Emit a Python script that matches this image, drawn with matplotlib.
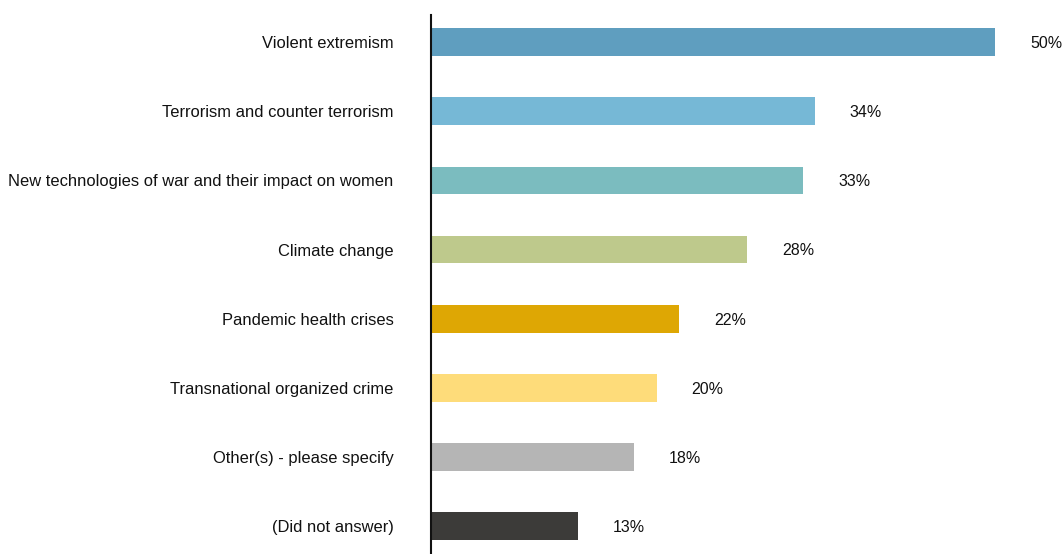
import matplotlib
matplotlib.use("Agg")
import matplotlib.pyplot as plt

categories = ["Violent extremism", "Terrorism and counter terrorism",
              "New technologies of war and their impact on women", "Climate change",
              "Pandemic health crises", "Transnational organized crime",
              "Other(s) - please specify", "(Did not answer)"]
values = [50, 34, 33, 28, 22, 20, 18, 13]
colors = ["#5f9ebf", "#76b8d6", "#7bbcbf", "#bec98c", "#dea704", "#fedc7a", "#b5b5b5", "#3c3b39"]

plt.rcParams['font.family'] = ['Liberation Sans', 'DejaVu Sans']

fig = plt.figure(figsize=(10.62, 5.54), dpi=100)
W, H = 1062, 554
ax = fig.add_axes([431 / W, 0, (W - 431) / W, (554 - 15) / H])
y = list(range(len(categories)))
ax.barh(y, values, height=0.4, color=colors)
for yi, v in zip(y, values):
    ax.text(v + 3.1, yi + 0.02, f"{v}%", va='center', ha='left', fontsize=11.5, color='#111111')
ax.set_xlim(0, 50 * (W - 431) / 564)
ax.set_ylim(7.4, -0.39)
ax.set_yticks(y)
ax.set_yticklabels(categories, fontsize=11.85, color='#111111')
ax.tick_params(axis='y', length=0, pad=27)
ax.set_xticks([])
for s in ['top', 'right', 'bottom']:
    ax.spines[s].set_visible(False)
ax.spines['left'].set_linewidth(1.5)
ax.spines['left'].set_color('#111111')
fig.savefig("out.png", dpi=100)
